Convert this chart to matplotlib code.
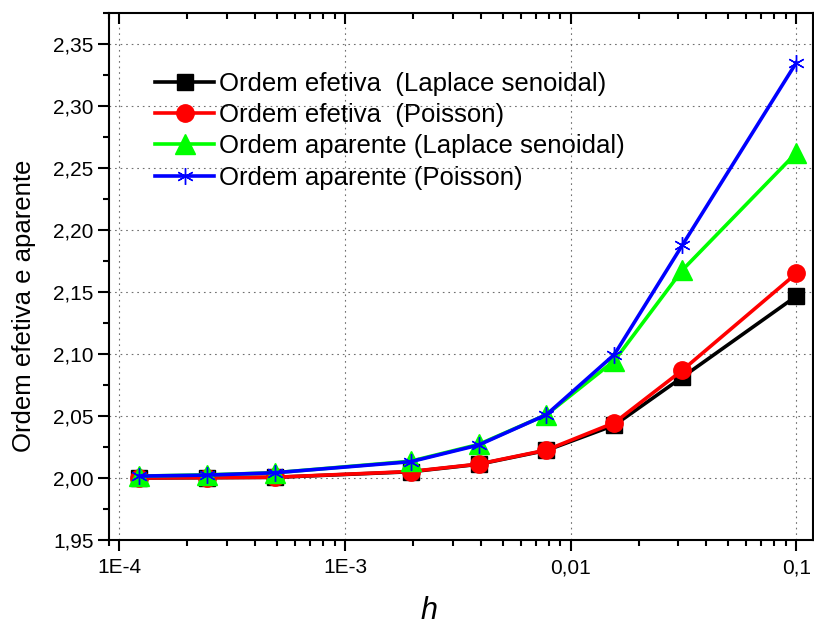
import numpy as np
import matplotlib
matplotlib.use('Agg')
import matplotlib.pyplot as plt
from matplotlib.ticker import FuncFormatter, LogLocator, MultipleLocator, NullFormatter

plt.rcParams['font.family'] = ['Liberation Sans', 'DejaVu Sans']

# malha h (1/8192 ... 1/32, 0.1)
h = [1/8192., 1/4096., 1/2048., 1/512., 1/256., 1/128., 1/64., 1/32., 0.1]

# ordem efetiva / aparente
efet_laplace = [2.0000, 2.0002, 2.0005, 2.0050, 2.0110, 2.0222, 2.0425, 2.0812, 2.1465]
efet_poisson = [2.0000, 2.0003, 2.0006, 2.0052, 2.0112, 2.0225, 2.0445, 2.0868, 2.1648]
apar_laplace = [2.0015, 2.0025, 2.0042, 2.0135, 2.0270, 2.0510, 2.0945, 2.1675, 2.2620]
apar_poisson = [2.0015, 2.0023, 2.0042, 2.0131, 2.0265, 2.0510, 2.0995, 2.1876, 2.3347]

labels = ['Ordem efetiva  (Laplace senoidal)',
          'Ordem efetiva  (Poisson)',
          'Ordem aparente (Laplace senoidal)',
          'Ordem aparente (Poisson)']

xticks = [1e-4, 1e-3, 1e-2, 1e-1]
xticklabels = ['1E-4', '1E-3', '0,01', '0,1']

fig = plt.figure(figsize=(8.14, 6.26), dpi=100)
ax = fig.add_axes([109/814., 1-540/626., (812.5-109)/814., (540-12.7)/626.])

lw = 2.6
ax.plot(h, efet_laplace, color='black', lw=lw, marker='s', ms=11,
        mfc='black', mec='black', label=labels[0])
ax.plot(h, efet_poisson, color='red', lw=lw, marker='o', ms=12.5,
        mfc='red', mec='red', label=labels[1])
ax.plot(h, apar_laplace, color='#00ff00', lw=lw, marker='^', ms=14.5,
        mfc='#00ff00', mec='#00ff00', label=labels[2])
ax.plot(h, apar_poisson, color='blue', lw=lw, marker=(6, 2, 0), ms=12,
        mec='blue', mew=1.0, label=labels[3])

ax.set_xscale('log')
ax.set_xlim(9.0e-5, 0.118)
ax.set_ylim(1.95, 2.375)

ax.set_xticks(xticks)
ax.set_xticklabels(xticklabels)
ax.xaxis.set_minor_locator(LogLocator(base=10, subs=np.arange(2, 10)))
ax.xaxis.set_minor_formatter(NullFormatter())
ax.yaxis.set_major_locator(MultipleLocator(0.05))
ax.yaxis.set_minor_locator(MultipleLocator(0.025))
ax.yaxis.set_major_formatter(FuncFormatter(lambda v, p: ('%.2f' % v).replace('.', ',')))

# ticks: fora em baixo/esquerda, dentro em cima/direita
ax.tick_params(which='both', top=True, right=True, width=1.5, labelsize=15)
ax.tick_params(which='major', length=8)
ax.tick_params(which='minor', length=4)
ax.tick_params(axis='x', which='both', direction='out', pad=5)
ax.tick_params(axis='y', which='both', direction='out', pad=3)
for t in ax.xaxis.get_ticklines(minor=False)[1::2] + ax.xaxis.get_ticklines(minor=True)[1::2]:
    t.set_marker(3)  # top -> para dentro
for t in ax.yaxis.get_ticklines(minor=False)[1::2] + ax.yaxis.get_ticklines(minor=True)[1::2]:
    t.set_marker(1)  # direita -> para dentro

for s in ax.spines.values():
    s.set_linewidth(1.5)

ax.grid(True, which='major', color='#707070', lw=0.8, linestyle=(0, (1.5, 3.5)))
ax.set_axisbelow(True)

leg = ax.legend(loc='upper left', bbox_to_anchor=(155/814., 1-72/626.),
                bbox_transform=fig.transFigure, frameon=False, fontsize=18.5,
                handlelength=2.3, handletextpad=0.2, labelspacing=0.28,
                borderpad=0, borderaxespad=0, numpoints=1)

fig.text(24/814., 1-306/626., 'Ordem efetiva e aparente', rotation=90,
         ha='center', va='center', fontsize=18.5)
fig.text(429/814., 1-619/626., 'h', style='italic', ha='center', va='baseline',
         fontsize=22)

fig.savefig('out.png', dpi=100)
